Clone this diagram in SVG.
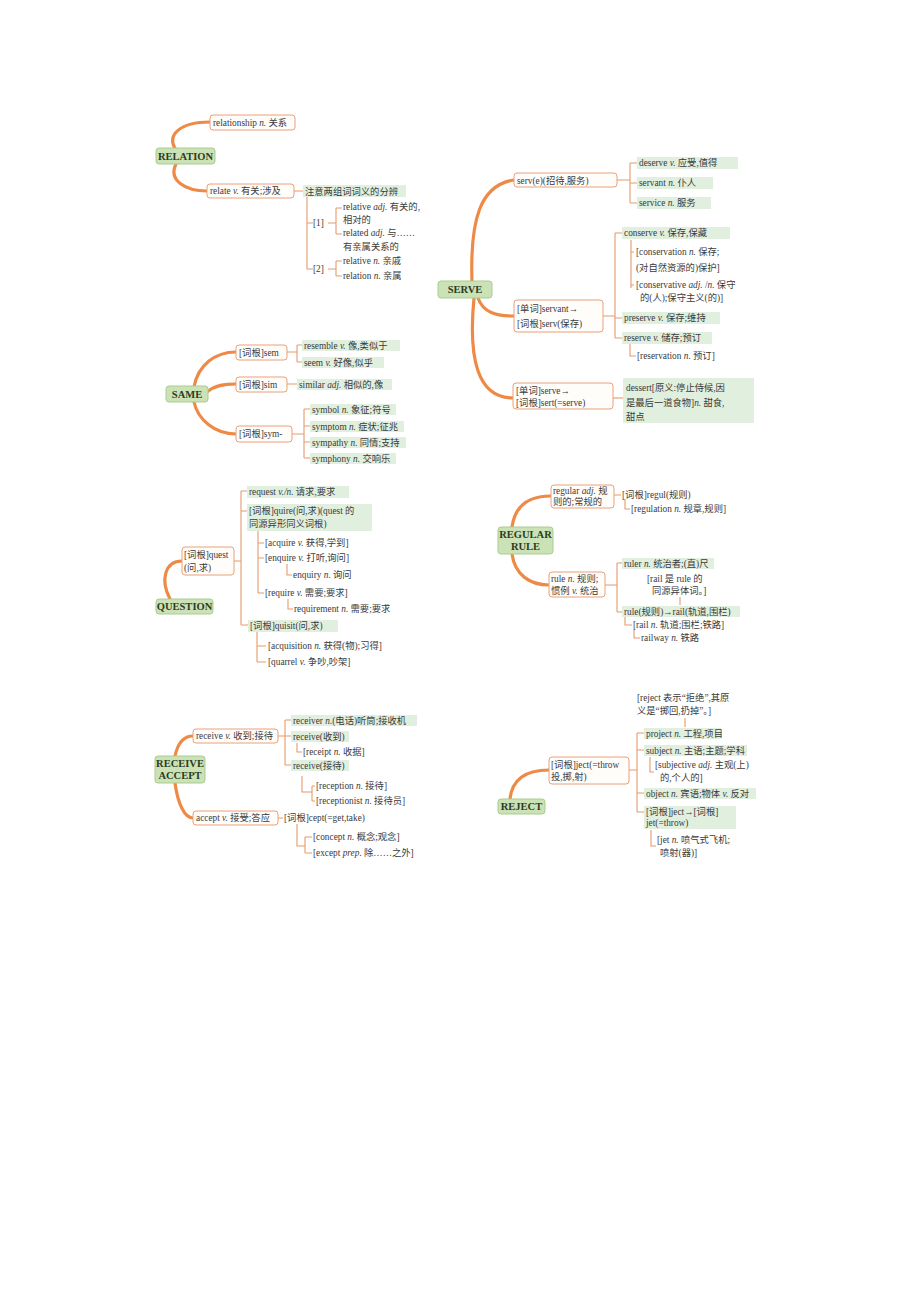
<svg xmlns="http://www.w3.org/2000/svg" width="920" height="1302" viewBox="0 0 920 1302">
<style>
text{font-family:"Liberation Serif","Noto Sans CJK SC",serif;font-size:9.3px;fill:#3a3a3a}
.i{font-style:italic}
.root rect{fill:#cbe2b6;stroke:#a9cd8f;stroke-width:1}
.root text{font-weight:bold;font-size:10.5px;fill:#2c3b22;text-anchor:middle}
.box{fill:#fffdfa;stroke:#e9a07a;stroke-width:1}
.leaf{fill:#e1efdf}
.c{fill:none;stroke:#ee8a46;stroke-width:3.2;stroke-linecap:round}
.l{fill:none;stroke:#e59a6c;stroke-width:1.1}
</style>
<rect width="920" height="1302" fill="#ffffff"/>
<g id="connectors">
<path class="c" d="M176,150 C166,135 180,122 210,122"/>
<path class="c" d="M176,164 C168,180 185,191 207,191"/>
<path class="c" d="M472,281 C470,220 480,185 514,180"/>
<path class="c" d="M478,298 C483,312 495,316 514,316"/>
<path class="c" d="M474,298 C468,360 478,398 513,398"/>
<path class="c" d="M194,387 C198,365 215,352 236,352"/>
<path class="c" d="M207,392 C215,385 225,384 236,384"/>
<path class="c" d="M194,402 C198,420 215,434 236,434"/>
<path class="c" d="M170,599 C160,580 165,561 182,561"/>
<path class="c" d="M512,527 C515,505 530,496 551,496"/>
<path class="c" d="M512,554 C515,575 530,585 549,585"/>
<path class="c" d="M175,756 C178,742 185,736 193,736"/>
<path class="c" d="M175,783 C178,805 185,818 193,818"/>
<path class="c" d="M510,799 C512,780 525,770 549,770"/>
<path class="l" d="M294,191 H303 M307,197 V269 H313 M307,223 H313 M328,223 H336 M336,208 V234 M336,208 H342 M336,234 H342 M328,269 H336 M336,261 V276 M336,261 H342 M336,276 H342"/>
<path class="l" d="M617,180 H630 M630,163 V203 M630,163 H637 M630,183 H637 M630,203 H637"/>
<path class="l" d="M603,316 H615 M615,233 V338 M615,233 H622 M615,318 H622 M615,338 H622 M631,240 V288 M631,252 H634 M631,285 H634 M630,344 V356 H636"/>
<path class="l" d="M613,398 H623"/>
<path class="l" d="M287,352 H297 M297,345 V362 M297,345 H302 M297,362 H302 M287,384 H297 M292,434 H304 M304,409 V458 M304,409 H310 M304,426 H310 M304,442 H310 M304,458 H310"/>
<path class="l" d="M234,561 H241 M241,491 V625 M241,491 H247 M241,511 H247 M241,625 H248 M258,531 V593 M258,543 H264 M258,558 H264 M258,593 H264 M287,564 V575 H292 M288,599 V609 H293 M257,632 V662 M257,646 H266 M257,662 H266"/>
<path class="l" d="M614,495 H621 M625,499 V509 H630 M605,585 H617 M617,563 V612 M617,563 H622 M617,612 H622 M680,597 V605 M625,617 V625 H632 M634,630 V638 H640"/>
<path class="l" d="M278,736 H285 M285,720 V765 M285,720 H291 M285,736 H291 M285,765 H291 M297,743 V752 H302 M302,776 V792 H312 M312,786 V801 M312,786 H315 M312,801 H315 M278,818 H283 M297,824 V846 H305 M305,837 V853 M305,837 H312 M305,853 H312"/>
<path class="l" d="M629,770 H637 M637,733 V812 M637,733 H644 M637,750 H644 M637,793 H644 M637,812 H644 M685,718 V727 M650,757 V772 H654 M651,830 V846 H656"/>
</g>
<g id="relation">
<g class="root"><rect x="156" y="148" width="59" height="16" rx="3"/><text x="185.5" y="159.8">RELATION</text></g>
<rect class="box" x="210" y="115" width="85" height="15" rx="3"/><text x="213" y="125.8">relationship <tspan class="i">n.</tspan> 关系</text>
<rect class="box" x="207" y="184" width="87" height="14" rx="3"/><text x="210" y="194.3">relate <tspan class="i">v.</tspan> 有关;涉及</text>
<rect class="leaf" x="303" y="185" width="103" height="12"/><text x="305" y="194.5">注意两组词词义的分辨</text>
<text x="313" y="226">[1]</text>
<text x="343" y="210">relative <tspan class="i">adj.</tspan> 有关的,</text>
<text x="343" y="223">相对的</text>
<text x="343" y="236">related <tspan class="i">adj.</tspan> 与……</text>
<text x="343" y="250">有亲属关系的</text>
<text x="313" y="272">[2]</text>
<text x="343" y="264">relative <tspan class="i">n.</tspan> 亲戚</text>
<text x="343" y="279">relation <tspan class="i">n.</tspan> 亲属</text>
</g>
<g id="serve">
<g class="root"><rect x="438" y="281" width="54" height="17" rx="3"/><text x="465" y="293.3">SERVE</text></g>
<rect class="box" x="514" y="173" width="103" height="14" rx="3"/><text x="517" y="183.5">serv(e)(招待,服务)</text>
<rect class="leaf" x="637" y="157" width="101" height="12"/><text x="639" y="166.3">deserve <tspan class="i">v.</tspan> 应受,值得</text>
<rect class="leaf" x="637" y="177" width="76" height="12"/><text x="639" y="186.3">servant <tspan class="i">n.</tspan> 仆人</text>
<rect class="leaf" x="637" y="197" width="74" height="12"/><text x="639" y="206.3">service <tspan class="i">n.</tspan> 服务</text>
<rect class="box" x="514" y="300" width="89" height="32" rx="3"/>
<text x="517" y="312">[单词]servant→</text>
<text x="517" y="327">[词根]serv(保存)</text>
<rect class="leaf" x="622" y="227" width="108" height="12"/><text x="624" y="236.3">conserve <tspan class="i">v.</tspan> 保存,保藏</text>
<text x="636" y="255">[conservation <tspan class="i">n.</tspan> 保存;</text>
<text x="636" y="271">(对自然资源的)保护]</text>
<text x="636" y="288">[conservative <tspan class="i">adj.</tspan> /<tspan class="i">n.</tspan> 保守</text>
<text x="640" y="301">的(人);保守主义(的)]</text>
<rect class="leaf" x="622" y="312" width="98" height="12"/><text x="624" y="321.3">preserve <tspan class="i">v.</tspan> 保存;维持</text>
<rect class="leaf" x="622" y="332" width="90" height="12"/><text x="624" y="341.3">reserve <tspan class="i">v.</tspan> 储存;预订</text>
<text x="637" y="359">[reservation <tspan class="i">n.</tspan> 预订]</text>
<rect class="box" x="513" y="383" width="100" height="26" rx="3"/>
<text x="516" y="394">[单词]serve→</text>
<text x="516" y="406">[词根]sert(=serve)</text>
<rect class="leaf" x="623" y="378" width="131" height="45"/>
<text x="626" y="391">dessert[原义:停止侍候,因</text>
<text x="626" y="406">是最后一道食物]<tspan class="i">n.</tspan> 甜食,</text>
<text x="626" y="420">甜点</text>
</g>
<g id="same">
<g class="root"><rect x="166" y="386" width="42" height="16" rx="3"/><text x="187" y="397.8">SAME</text></g>
<rect class="box" x="236" y="345" width="51" height="15" rx="3"/><text x="239" y="355.8">[词根]sem</text>
<rect class="box" x="236" y="377" width="51" height="15" rx="3"/><text x="239" y="387.8">[词根]sim</text>
<rect class="box" x="236" y="426" width="56" height="16" rx="3"/><text x="239" y="437.3">[词根]sym-</text>
<rect class="leaf" x="302" y="340" width="98" height="11"/><text x="304" y="348.8">resemble <tspan class="i">v.</tspan> 像,类似于</text>
<rect class="leaf" x="302" y="357" width="82" height="11"/><text x="304" y="365.8">seem <tspan class="i">v.</tspan> 好像,似乎</text>
<rect class="leaf" x="297" y="379" width="95" height="11"/><text x="299" y="387.8">similar <tspan class="i">adj.</tspan> 相似的,像</text>
<rect class="leaf" x="310" y="404" width="86" height="11"/><text x="312" y="412.8">symbol <tspan class="i">n.</tspan> 象征;符号</text>
<rect class="leaf" x="310" y="421" width="94" height="11"/><text x="312" y="429.8">symptom <tspan class="i">n.</tspan> 症状;征兆</text>
<rect class="leaf" x="310" y="437" width="96" height="11"/><text x="312" y="445.8">sympathy <tspan class="i">n.</tspan> 同情;支持</text>
<rect class="leaf" x="310" y="453" width="86" height="11"/><text x="312" y="461.8">symphony <tspan class="i">n.</tspan> 交响乐</text>
</g>
<g id="question">
<g class="root"><rect x="156" y="599" width="57" height="15" rx="3"/><text x="184.5" y="610.3">QUESTION</text></g>
<rect class="box" x="182" y="547" width="52" height="28" rx="3"/>
<text x="184" y="558">[词根]quest</text>
<text x="184" y="571">(问,求)</text>
<rect class="leaf" x="247" y="486" width="102" height="12"/><text x="249" y="495.3">request <tspan class="i">v./n.</tspan> 请求,要求</text>
<rect class="leaf" x="247" y="504" width="125" height="27"/>
<text x="249" y="514">[词根]quire(问,求)(quest 的</text>
<text x="249" y="527">同源异形同义词根)</text>
<text x="265" y="546">[acquire <tspan class="i">v.</tspan> 获得,学到]</text>
<text x="265" y="561">[enquire <tspan class="i">v.</tspan> 打听,询问]</text>
<text x="293" y="578">enquiry <tspan class="i">n.</tspan> 询问</text>
<text x="265" y="596">[require <tspan class="i">v.</tspan> 需要;要求]</text>
<text x="294" y="612">requirement <tspan class="i">n.</tspan> 需要;要求</text>
<rect class="leaf" x="248" y="620" width="90" height="12"/><text x="250" y="629.3">[词根]quisit(问,求)</text>
<text x="268" y="649">[acquisition <tspan class="i">n.</tspan> 获得(物);习得]</text>
<text x="268" y="665">[quarrel <tspan class="i">v.</tspan> 争吵,吵架]</text>
</g>
<g id="regular">
<g class="root"><rect x="498" y="527" width="55" height="27" rx="3"/><text x="525.5" y="538.3">REGULAR</text><text x="525.5" y="550.3">RULE</text></g>
<rect class="box" x="551" y="485" width="63" height="23" rx="3"/>
<text x="553" y="494">regular <tspan class="i">adj.</tspan> 规</text>
<text x="553" y="505">则的;常规的</text>
<text x="622" y="498">[词根]regul(规则)</text>
<text x="631" y="512">[regulation <tspan class="i">n.</tspan> 规章,规则]</text>
<rect class="box" x="549" y="572" width="56" height="25" rx="3"/>
<text x="551" y="582">rule <tspan class="i">n.</tspan> 规则;</text>
<text x="551" y="594">惯例 <tspan class="i">v.</tspan> 统治</text>
<rect class="leaf" x="622" y="558" width="92" height="11"/><text x="624" y="566.8">ruler <tspan class="i">n.</tspan> 统治者;(直)尺</text>
<text x="647" y="582">[rail 是 rule 的</text>
<text x="652" y="594">同源异体词。]</text>
<rect class="leaf" x="622" y="606" width="118" height="11"/><text x="624" y="614.8">rule(规则)→rail(轨道,围栏)</text>
<text x="633" y="628">[rail <tspan class="i">n.</tspan> 轨道;围栏;铁路]</text>
<text x="641" y="641">railway <tspan class="i">n.</tspan> 铁路</text>
</g>
<g id="receive">
<g class="root"><rect x="155" y="756" width="50" height="27" rx="3"/><text x="180" y="767.3">RECEIVE</text><text x="180" y="779.3">ACCEPT</text></g>
<rect class="box" x="193" y="729" width="85" height="14" rx="3"/><text x="196" y="739.3">receive <tspan class="i">v.</tspan> 收到;接待</text>
<rect class="box" x="193" y="811" width="85" height="14" rx="3"/><text x="196" y="821.3">accept <tspan class="i">v.</tspan> 接受;答应</text>
<rect class="leaf" x="291" y="715" width="126" height="11"/><text x="293" y="723.8">receiver <tspan class="i">n.</tspan>(电话)听筒;接收机</text>
<rect class="leaf" x="291" y="731" width="58" height="11"/><text x="293" y="739.8">receive(收到)</text>
<text x="303" y="755">[receipt <tspan class="i">n.</tspan> 收据]</text>
<rect class="leaf" x="291" y="760" width="58" height="11"/><text x="293" y="768.8">receive(接待)</text>
<text x="316" y="789">[reception <tspan class="i">n.</tspan> 接待]</text>
<text x="316" y="804">[receptionist <tspan class="i">n.</tspan> 接待员]</text>
<text x="284" y="821.3">[词根]cept(=get,take)</text>
<text x="313" y="840">[concept <tspan class="i">n.</tspan> 概念;观念]</text>
<text x="313" y="856">[except <tspan class="i">prep.</tspan> 除……之外]</text>
</g>
<g id="reject">
<g class="root"><rect x="498" y="799" width="47" height="15" rx="3"/><text x="521.5" y="810.3">REJECT</text></g>
<rect class="box" x="549" y="757" width="80" height="27" rx="3"/>
<text x="551" y="768">[词根]ject(=throw</text>
<text x="551" y="780">投,掷,射)</text>
<text x="637" y="701">[reject 表示“拒绝”,其原</text>
<text x="637" y="714">义是“掷回,扔掉”。]</text>
<rect class="leaf" x="644" y="728" width="77" height="11"/><text x="646" y="736.8">project <tspan class="i">n.</tspan> 工程,项目</text>
<rect class="leaf" x="644" y="745" width="103" height="11"/><text x="646" y="753.8">subject <tspan class="i">n.</tspan> 主语;主题;学科</text>
<text x="655" y="768">[subjective <tspan class="i">adj.</tspan> 主观(上)</text>
<text x="660" y="781">的,个人的]</text>
<rect class="leaf" x="644" y="788" width="112" height="11"/><text x="646" y="796.8">object <tspan class="i">n.</tspan> 宾语;物体 <tspan class="i">v.</tspan> 反对</text>
<rect class="leaf" x="644" y="806" width="92" height="23"/>
<text x="646" y="815">[词根]ject→[词根]</text>
<text x="646" y="826">jet(=throw)</text>
<text x="657" y="843">[jet <tspan class="i">n.</tspan> 喷气式飞机;</text>
<text x="660" y="856">喷射(器)]</text>
</g>
</svg>
